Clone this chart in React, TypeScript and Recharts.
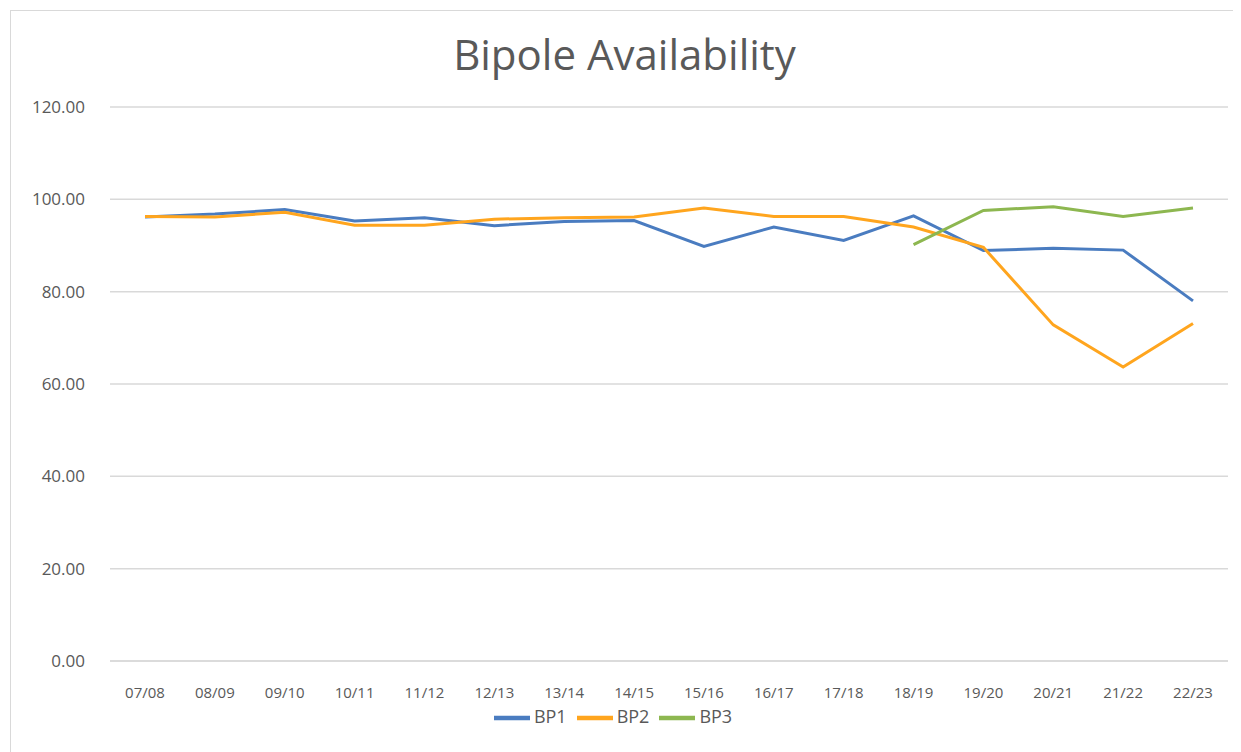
import React from 'react';
import { LineChart, Line, XAxis, YAxis, CartesianGrid, Legend } from 'recharts';

const categories = ['07/08', '08/09', '09/10', '10/11', '11/12', '12/13', '13/14', '14/15', '15/16', '16/17', '17/18', '18/19', '19/20', '20/21', '21/22', '22/23'];
const bp1 = [96.2, 96.8, 97.8, 95.3, 96.0, 94.3, 95.2, 95.4, 89.8, 94.0, 91.1, 96.4, 88.9, 89.4, 89.0, 78.0];
const bp2 = [96.3, 96.2, 97.2, 94.4, 94.4, 95.7, 96.0, 96.2, 98.1, 96.3, 96.3, 94.0, 89.6, 72.8, 63.7, 73.1];
const bp3: (number | null)[] = [null, null, null, null, null, null, null, null, null, null, null, 90.2, 97.6, 98.4, 96.3, 98.1];
const yTicks = [0, 20, 40, 60, 80, 100, 120];

const data = categories.map((c, i) => ({ cat: c, BP1: bp1[i], BP2: bp2[i], BP3: bp3[i] }));

const FONT = '"Open Sans", "Liberation Sans", sans-serif';

export default function App() {
  return (
    <div style={{ position: 'relative', width: 1233, height: 744, fontFamily: FONT }}>
      <div style={{ position: 'absolute', left: 2, top: 2, width: 1240, height: 760, borderLeft: '1px solid #d9d9d9', borderTop: '1px solid #d9d9d9' }} />
      <div style={{ position: 'absolute', left: 0, width: 1233, top: 20, textAlign: 'center', fontSize: 42, color: '#595959', fontFamily: FONT, lineHeight: '52px' }}>
        Bipole Availability
      </div>
      <LineChart width={1233} height={744} data={data} margin={{ top: 99, right: 13, left: 0, bottom: 41 }}>
        <CartesianGrid vertical={false} stroke="#d9d9d9" strokeWidth={1.5} />
        <XAxis
          dataKey="cat"
          height={50}
          padding={{ left: 35, right: 35 }}
          axisLine={{ stroke: '#d9d9d9', strokeWidth: 1.5 }}
          tickLine={false}
          tickMargin={20}
          interval={0}
          tick={{ fontSize: 15, fill: '#595959', fontFamily: FONT }}
        />
        <YAxis
          width={102}
          domain={[0, 120]}
          ticks={yTicks}
          axisLine={false}
          tickLine={false}
          tickSize={0}
          tickMargin={25}
          tickFormatter={(v: number) => v.toFixed(2)}
          tick={{ fontSize: 17, fill: '#595959', fontFamily: FONT }}
        />
        <Legend
          layout="horizontal"
          verticalAlign="middle"
          align="center"
          iconType="plainline"
          iconSize={36}
          wrapperStyle={{ top: 692, fontSize: 18, fontFamily: FONT }}
          formatter={(v: string) => <span style={{ color: '#595959' }}>{v}</span>}
        />
        <Line type="linear" dataKey="BP1" stroke="#4A7CC0" strokeWidth={3} dot={false} isAnimationActive={false} />
        <Line type="linear" dataKey="BP2" stroke="#FFA51E" strokeWidth={3} dot={false} isAnimationActive={false} />
        <Line type="linear" dataKey="BP3" stroke="#8DB750" strokeWidth={3} dot={false} isAnimationActive={false} connectNulls={false} />
      </LineChart>
    </div>
  );
}
